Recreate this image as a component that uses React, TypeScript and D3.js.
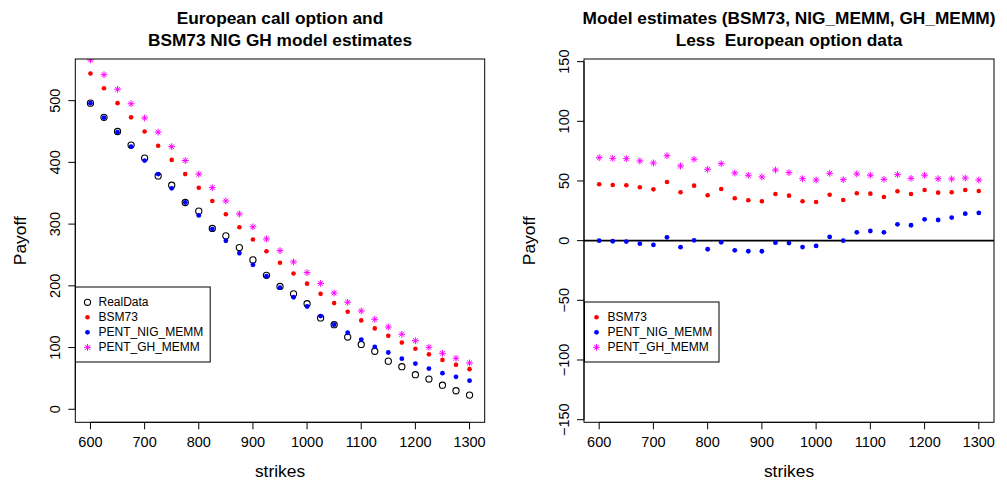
import React from "react";
import * as d3 from "d3";

const strikes = [600, 625, 650, 675, 700, 725, 750, 775, 800, 825, 850, 875, 900, 925, 950, 975, 1000, 1025, 1050, 1075, 1100, 1125, 1150, 1175, 1200, 1225, 1250, 1275, 1300];

const realData = [496, 473, 450, 428, 407, 378, 363, 335, 321, 293, 281, 262, 242, 217, 199, 187, 171, 148, 137, 117, 105, 94, 78, 69, 56, 49, 39, 30, 23];
const bsm73 = [544, 520, 496, 473, 450, 427, 404, 381, 359, 337.5, 316, 295, 275, 256, 237.5, 220, 203.5, 187, 172, 158, 144, 131, 119, 108, 98, 89, 80, 72, 65];
const pentNig = [496, 472.5, 449, 425.5, 403, 381, 358, 335, 314, 292, 273, 253, 234, 215.5, 197, 181.5, 166.5, 151, 137, 124, 113, 101, 92, 82, 74, 66, 58.5, 52.5, 46.3];
const pentGh = [566, 542, 518.5, 495, 472, 449, 425.5, 403, 381, 359, 337.5, 316.4, 295.6, 276, 257, 238.7, 221.4, 204, 188.4, 173.4, 159.3, 145.8, 133.3, 121.5, 111, 100.4, 90.7, 82.6, 75];

const diffBsm = [47.2, 46.6, 46.4, 44.7, 43.0, 49.2, 40.5, 46.1, 38.0, 43.3, 35.5, 33.8, 33.0, 39.1, 37.7, 33.0, 32.4, 38.5, 34.1, 39.7, 39.4, 36.6, 41.4, 39.1, 42.5, 40.2, 40.5, 42.5, 41.6];
const diffNig = [0.0, -0.5, -0.8, -2.5, -3.6, 2.8, -5.5, 0.3, -7.2, -1.4, -8.1, -8.9, -8.9, -1.7, -2.0, -5.4, -4.4, 3.1, 0.0, 7.0, 8.1, 7.0, 13.7, 12.9, 17.9, 17.3, 19.3, 22.6, 23.2];
const diffGh = [69.5, 69.0, 68.7, 66.8, 65.1, 71.2, 62.6, 68.2, 59.8, 64.5, 56.7, 54.8, 53.4, 59.2, 57.0, 51.9, 50.8, 56.4, 51.1, 55.9, 54.8, 51.4, 55.3, 52.2, 54.8, 51.9, 51.7, 52.5, 50.8];

const xTicks = [600, 700, 800, 900, 1000, 1100, 1200, 1300];
const leftYTicks = [0, 100, 200, 300, 400, 500];
const rightYTicks = [-150, -100, -50, 0, 50, 100, 150];

const leftTitle = ["European call option and", "BSM73 NIG GH model estimates"];
const rightTitle = ["Model estimates (BSM73, NIG_MEMM, GH_MEMM)", "Less  European option data"];
const xLabel = "strikes";
const yLabel = "Payoff";
const leftLegend = ["RealData", "BSM73", "PENT_NIG_MEMM", "PENT_GH_MEMM"];
const rightLegend = ["BSM73", "PENT_NIG_MEMM", "PENT_GH_MEMM"];

const FONT = "'Liberation Sans', Arial, Helvetica, sans-serif";
const RED = "#FF0000";
const BLUE = "#0000FF";
const MAG = "#FF00FF";

type Kind = "open" | "red" | "blue" | "star";

function Marker({ kind, x, y }: { kind: Kind; x: number; y: number }) {
  if (kind === "open") return <circle cx={x} cy={y} r={3.1} fill="none" stroke="#000" strokeWidth={1.1} />;
  if (kind === "red") return <circle cx={x} cy={y} r={2.3} fill={RED} />;
  if (kind === "blue") return <circle cx={x} cy={y} r={2.4} fill={BLUE} />;
  const L = 3.4;
  const d = L * 0.7071;
  return (
    <path
      d={`M${x - L},${y}H${x + L}M${x},${y - L}V${y + L}M${x - d},${y - d}L${x + d},${y + d}M${x - d},${y + d}L${x + d},${y - d}`}
      stroke={MAG}
      strokeWidth={1}
      fill="none"
    />
  );
}

interface PanelProps {
  id: string;
  x0: number;
  x1: number;
  yDomain: [number, number];
  yTicks: number[];
  title: string[];
  series: { kind: Kind; values: number[] }[];
  zeroLine?: boolean;
  legend: { kind: Kind; label: string }[];
  legendBox: { x: number; y: number; w: number; h: number };
}

const TOP = 59;
const BOTTOM = 422.3;

function Panel(p: PanelProps) {
  const x = d3.scaleLinear().domain([572, 1328]).range([p.x0, p.x1]);
  const y = d3.scaleLinear().domain(p.yDomain).range([BOTTOM, TOP]);
  const cx = (p.x0 + p.x1) / 2;
  const cy = (TOP + BOTTOM) / 2;
  const fmt = (v: number) => (v < 0 ? "\u2212" + Math.abs(v) : String(v));
  return (
    <g fontFamily={FONT}>
      <defs>
        <clipPath id={p.id}>
          <rect x={p.x0} y={TOP} width={p.x1 - p.x0} height={BOTTOM - TOP} />
        </clipPath>
      </defs>
      {p.title.map((t, i) => (
        <text key={i} x={cx} y={24 + i * 22} textAnchor="middle" fontWeight="bold" fontSize={17.3} style={{ whiteSpace: "pre" }}>
          {t}
        </text>
      ))}
      <g clipPath={`url(#${p.id})`}>
        {p.zeroLine && <line x1={p.x0} x2={p.x1} y1={y(0)} y2={y(0)} stroke="#000" strokeWidth={1.8} />}
        {p.series.map((s, si) => (
          <g key={si}>
            {s.values.map((v, i) => (
              <Marker key={i} kind={s.kind} x={x(strikes[i])} y={y(v)} />
            ))}
          </g>
        ))}
      </g>
      <rect x={p.x0} y={TOP} width={p.x1 - p.x0} height={BOTTOM - TOP} fill="none" stroke="#000" strokeWidth={1} />
      {/* x axis */}
      <line x1={x(xTicks[0])} x2={x(xTicks[xTicks.length - 1])} y1={BOTTOM} y2={BOTTOM} stroke="#000" />
      {xTicks.map((t) => (
        <g key={t}>
          <line x1={x(t)} x2={x(t)} y1={BOTTOM} y2={BOTTOM + 7} stroke="#000" />
          <text x={x(t)} y={447} textAnchor="middle" fontSize={14.5}>
            {t}
          </text>
        </g>
      ))}
      {/* y axis */}
      <line x1={p.x0} x2={p.x0} y1={y(p.yTicks[0])} y2={y(p.yTicks[p.yTicks.length - 1])} stroke="#000" />
      {p.yTicks.map((t) => (
        <g key={t}>
          <line x1={p.x0 - 7} x2={p.x0} y1={y(t)} y2={y(t)} stroke="#000" />
          <text transform={`translate(${p.x0 - 15.5},${y(t)}) rotate(-90)`} textAnchor="middle" fontSize={14.5}>
            {fmt(t)}
          </text>
        </g>
      ))}
      <text x={cx} y={477} textAnchor="middle" fontSize={17.4}>
        {xLabel}
      </text>
      <text transform={`translate(${p.x0 - 49.5},${cy}) rotate(-90)`} textAnchor="middle" fontSize={17.4}>
        {yLabel}
      </text>
      {/* legend */}
      <rect x={p.legendBox.x} y={p.legendBox.y} width={p.legendBox.w} height={p.legendBox.h} fill="#fff" stroke="#000" strokeWidth={1} />
      {p.legend.map((l, i) => {
        const ly = p.legendBox.y + 15.3 + i * 15;
        return (
          <g key={i}>
            <Marker kind={l.kind} x={p.legendBox.x + 12} y={ly} />
            <text x={p.legendBox.x + 23} y={ly} dominantBaseline="central" fontSize={12}>
              {l.label}
            </text>
          </g>
        );
      })}
    </g>
  );
}

export default function App() {
  return (
    <svg width={1007} height={484} style={{ position: "absolute", left: 0, top: 0, background: "#fff" }}>
      <rect x={0} y={0} width={1007} height={484} fill="#fff" />
      <Panel
        id="clipL"
        x0={75.3}
        x1={484.7}
        yDomain={[-21.1, 567.5]}
        yTicks={leftYTicks}
        title={leftTitle}
        series={[
          { kind: "open", values: realData },
          { kind: "red", values: bsm73 },
          { kind: "blue", values: pentNig },
          { kind: "star", values: pentGh },
        ]}
        legend={[
          { kind: "open", label: leftLegend[0] },
          { kind: "red", label: leftLegend[1] },
          { kind: "blue", label: leftLegend[2] },
          { kind: "star", label: leftLegend[3] },
        ]}
        legendBox={{ x: 75.5, y: 287, w: 134.7, h: 75 }}
      />
      <Panel
        id="clipR"
        x0={584}
        x1={994}
        yDomain={[-152.2, 152.2]}
        yTicks={rightYTicks}
        title={rightTitle}
        zeroLine
        series={[
          { kind: "red", values: diffBsm },
          { kind: "blue", values: diffNig },
          { kind: "star", values: diffGh },
        ]}
        legend={[
          { kind: "red", label: rightLegend[0] },
          { kind: "blue", label: rightLegend[1] },
          { kind: "star", label: rightLegend[2] },
        ]}
        legendBox={{ x: 584.5, y: 302, w: 134.5, h: 60 }}
      />
    </svg>
  );
}
